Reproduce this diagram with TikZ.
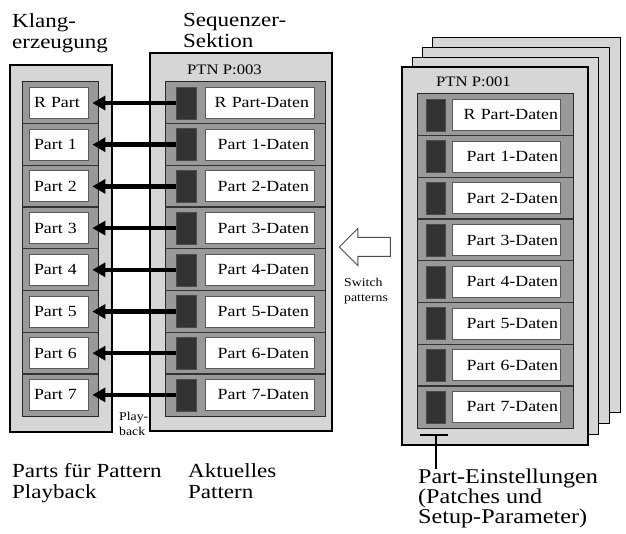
\documentclass[tikz,border=0pt]{standalone}
\usepackage{fontspec}
\setmainfont{Liberation Serif}[FakeStretch=1.15]
\usetikzlibrary{arrows.meta,shapes.arrows}
\definecolor{panelgray}{gray}{0.84}
\definecolor{framegray}{gray}{0.60}
\definecolor{darksq}{gray}{0.20}
\begin{document}
\begin{tikzpicture}[x=1pt,y=-1pt,
  panel/.style={draw=black, line width=1.1pt, fill=panelgray},
  frame/.style={draw=black!85, line width=1pt, fill=framegray},
  sep/.style={draw=black!80, line width=1.3pt},
  wbox/.style={draw=black!65, line width=0.8pt, fill=white, minimum height=31pt,
    inner ysep=0pt, inner xsep=5pt, font=\fontsize{15.5}{17}\selectfont},
  lbox/.style={wbox, text width=49pt, align=left},
  mbox/.style={wbox, text width=99pt, align=right, inner xsep=5pt},
  rbox/.style={wbox, text width=104pt, align=right, inner xsep=2pt},
  dsq/.style={draw=black!70, fill=darksq, minimum width=20pt, minimum height=32pt, inner sep=0pt},
  heading/.style={anchor=north west, align=left, inner sep=0pt, font=\fontsize{20}{21.5}\selectfont},
  bigtxt/.style={anchor=north west, align=left, inner sep=0pt, font=\fontsize{21}{20}\selectfont},
  smalltxt/.style={anchor=north west, align=left, inner sep=0pt, font=\fontsize{12}{15}\selectfont},
  ptn/.style={anchor=base west, inner sep=0pt, font=\fontsize{14.5}{16}\selectfont},
  playarrow/.style={line width=4.5pt, -{Triangle[length=13pt,width=14pt]}, shorten >=4pt},
]
\useasboundingbox (0,0) rectangle (626,534);

% ---------- headings ----------
\node[heading] (hk) at (12,13) {Klang-\\erzeugung};
\node[heading] (hs) at (183,13) {Sequenzer-\\Sektion};

% ---------- left panel (Klangerzeugung) ----------
\draw[panel] (10,65) rectangle (112,432);
\draw[frame] (22,82) rectangle (98,416);
\foreach \k in {1,...,7} \draw[sep] (22,{82+41.7*\k}) -- (98,{82+41.7*\k});

% ---------- middle panel (Sequenzer) ----------
\draw[panel] (150,53) rectangle (332,431);
\node[ptn] (ptn3) at (187,75) {PTN P:003};
\draw[frame] (165,82) rectangle (325,416);
\foreach \k in {1,...,7} \draw[sep] (165,{82+41.7*\k}) -- (325,{82+41.7*\k});

% ---------- right stack of patterns ----------
\foreach \s in {3,2,1} {
  \draw[panel] ({402+10.3*\s},{67-9.7*\s}) rectangle ({588+10.7*\s},{445-10.7*\s});
}
\draw[panel] (402,67) rectangle (588,445);
\node[ptn] (ptn1) at (436,87) {PTN P:001};
\draw[frame] (417,94) rectangle (573,428);
\foreach \k in {1,...,7} \draw[sep] (417,{94+41.7*\k}) -- (573,{94+41.7*\k});

% ---------- rows ----------
\foreach \i/\l in {0/R Part,1/Part 1,2/Part 2,3/Part 3,4/Part 4,5/Part 5,6/Part 6,7/Part 7} {
  \pgfmathsetmacro\c{103+41.7*\i}
  \pgfmathsetmacro\cr{115+41.7*\i}
  \node[lbox] (L\i) at (58.5,\c) {\l};
  \node[dsq] (D\i) at (186,\c) {};
  \node[mbox] (M\i) at (259.5,\c) {\l-Daten};
  \node[dsq, minimum width=19pt] (RD\i) at (435.5,\cr) {};
  \node[rbox] (R\i) at (506,\cr) {\l-Daten};
  \draw[playarrow] (D\i.west) -- (L\i.east);
}

% ---------- labels ----------
\node[smalltxt] (pb) at (119,412) {Play-\\back};
\node[single arrow, draw=black!70, fill=white, line width=1pt,
      shape border rotate=180, minimum height=51pt, inner sep=9pt,
      single arrow head extend=9pt] (sw) at (369.5,247) {};
\node[smalltxt] (swt) at (344,278) {Switch\\patterns};

\node[heading] (hp) at (12,463) {Parts für Pattern\\Playback};
\node[heading] (ha) at (188,463) {Aktuelles\\Pattern};

\node[bigtxt] (pe) at (418,469) {Part-Einstellungen\\(Patches und\\Setup-Parameter)};
\coordinate (ba) at (420,435);
\coordinate (bb) at (448,435);
\coordinate (bm) at (436,435);
\draw[line width=1.6pt] (ba) -- (bb);
\draw[line width=1.2pt] (bm) -- (bm |- pe.north);
\end{tikzpicture}
\end{document}
